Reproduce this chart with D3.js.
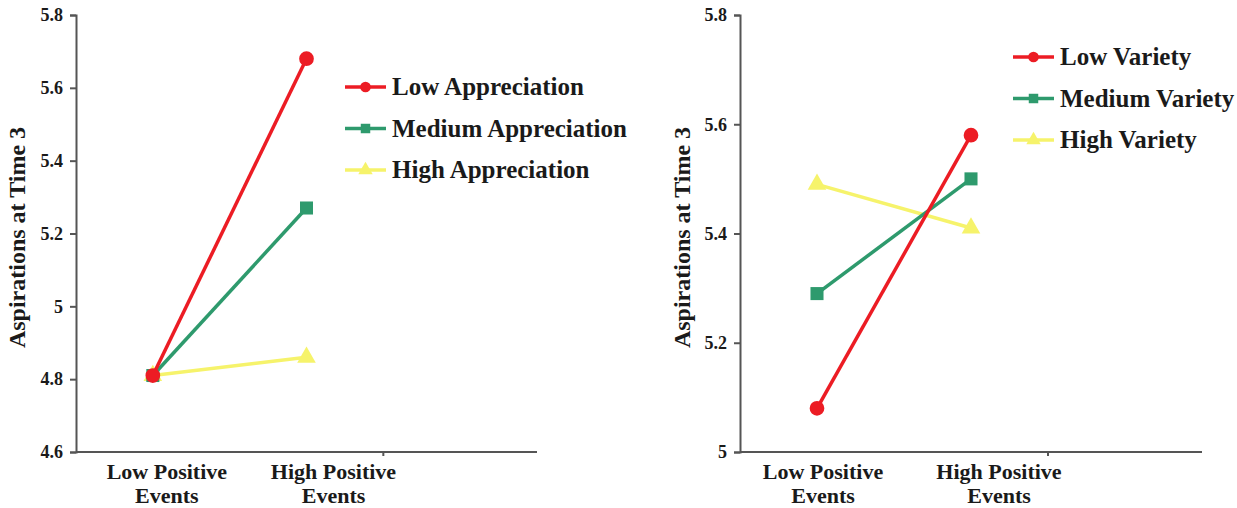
<!DOCTYPE html>
<html lang="en">
<head>
  <meta charset="UTF-8" />
  <title>Aspirations at Time 3</title>
  <script src="https://d3js.org/d3.v7.min.js"></script>
  <style>
    body {
      margin: 0;
      padding: 0;
      background: #fff;
    }
    text {
      font-family: "Liberation Serif", "Times New Roman", serif;
      font-weight: bold;
      fill: #1a1a1a;
    }
    .tick-label { font-size: 18px; }
    .cat-label { font-size: 22px; }
    .axis-title { font-size: 24px; }
    .legend-label { font-size: 25px; }
    .axis-line {
      stroke: #555;
      stroke-width: 2px;
      fill: none;
    }
  </style>
</head>
<body>
  <svg width="1237" height="508"></svg>
  <script>
    // categories on the x axis
    const categories = ["Low Positive Events", "High Positive Events"];
    const categoryLines = [["Low Positive", "Events"], ["High Positive", "Events"]];

    // left panel
    const appreciationSeries = ["Low Appreciation", "Medium Appreciation", "High Appreciation"];
    const lowAppreciation = [4.81, 5.68];
    const mediumAppreciation = [4.81, 5.27];
    const highAppreciation = [4.81, 4.86];
    const leftTicks = [4.6, 4.8, 5, 5.2, 5.4, 5.6, 5.8];

    // right panel
    const varietySeries = ["Low Variety", "Medium Variety", "High Variety"];
    const lowVariety = [5.08, 5.58];
    const mediumVariety = [5.29, 5.50];
    const highVariety = [5.49, 5.41];
    const rightTicks = [5, 5.2, 5.4, 5.6, 5.8];

    const colors = ["#ec1c24", "#2e9a6d", "#f6f36b"];
    const shapes = [d3.symbolCircle, d3.symbolSquare, d3.symbolTriangle];

    const svg = d3.select("svg");

    function drawPanel(opts) {
      const g = svg.append("g");
      const { x0, x1, yTop, yBottom } = opts;

      const y = d3.scaleLinear()
        .domain([opts.ticks[0], opts.ticks[opts.ticks.length - 1]])
        .range([yBottom, yTop]);

      // three equal bands, the last one left empty
      const band = d3.scaleBand()
        .domain([...categories, ""])
        .range([x0, x1])
        .paddingInner(0)
        .paddingOuter(0);
      const xc = c => band(c) + band.bandwidth() / 2;

      // y axis
      const yAxis = d3.axisLeft(y)
        .tickValues(opts.ticks)
        .tickSize(6)
        .tickPadding(7)
        .tickFormat(d => d3.format("")(+d.toFixed(1)));
      const ya = g.append("g")
        .attr("transform", `translate(${x0},0)`)
        .call(yAxis);
      ya.select(".domain").attr("class", "axis-line");
      ya.selectAll(".tick line").attr("stroke", "#555").attr("stroke-width", 2);
      ya.selectAll(".tick text").attr("class", "tick-label").attr("fill", "#1a1a1a");

      // x axis line with a tick every second category boundary
      g.append("line")
        .attr("class", "axis-line")
        .attr("x1", x0).attr("x2", x1)
        .attr("y1", yBottom).attr("y2", yBottom);
      g.append("line")
        .attr("class", "axis-line")
        .attr("x1", band(categories[1]) + band.bandwidth())
        .attr("x2", band(categories[1]) + band.bandwidth())
        .attr("y1", yBottom).attr("y2", yBottom + 4);

      categories.forEach((c, i) => {
        categoryLines[i].forEach((ln, k) => {
          g.append("text")
            .attr("class", "cat-label")
            .attr("text-anchor", "middle")
            .attr("x", xc(c) + opts.labelShift[i])
            .attr("y", yBottom + 27 + k * 24)
            .text(ln);
        });
      });

      g.append("text")
        .attr("class", "axis-title")
        .attr("text-anchor", "middle")
        .attr("transform", `translate(${opts.titleX},${(yTop + yBottom) / 2 + 4}) rotate(-90)`)
        .text("Aspirations at Time 3");

      // lines, drawn yellow first so red sits on top
      const line = d3.line()
        .x((d, i) => xc(categories[i]))
        .y(d => y(d));

      for (let s = opts.values.length - 1; s >= 0; s--) {
        g.append("path")
          .attr("d", line(opts.values[s]))
          .attr("fill", "none")
          .attr("stroke", colors[s])
          .attr("stroke-width", 3.5);
        g.selectAll(null)
          .data(opts.values[s])
          .enter()
          .append("path")
          .attr("d", d3.symbol().type(shapes[s]).size(s === 2 ? 150 : 170))
          .attr("transform", (d, i) => `translate(${xc(categories[i])},${y(d)})`)
          .attr("fill", colors[s]);
      }

      // legend
      opts.series.forEach((name, s) => {
        const ly = opts.legendY + s * 41.5;
        const lg = g.append("g").attr("transform", `translate(${opts.legendX},${ly})`);
        lg.append("line")
          .attr("x1", 0).attr("x2", 41)
          .attr("y1", 0).attr("y2", 0)
          .attr("stroke", colors[s])
          .attr("stroke-width", 3.5);
        lg.append("path")
          .attr("d", d3.symbol().type(shapes[s]).size(90))
          .attr("transform", "translate(20.5,0)")
          .attr("fill", colors[s]);
        lg.append("text")
          .attr("class", "legend-label")
          .attr("x", 47)
          .attr("y", 8)
          .text(name);
      });
    }

    drawPanel({
      x0: 76, x1: 537, yTop: 15, yBottom: 452,
      ticks: leftTicks,
      values: [lowAppreciation, mediumAppreciation, highAppreciation],
      series: appreciationSeries,
      labelShift: [14, 27],
      titleX: 25,
      legendX: 345, legendY: 87
    });

    drawPanel({
      x0: 740, x1: 1202, yTop: 15, yBottom: 452,
      ticks: rightTicks,
      values: [lowVariety, mediumVariety, highVariety],
      series: varietySeries,
      labelShift: [6, 28],
      titleX: 690,
      legendX: 1013, legendY: 57
    });
  </script>
</body>
</html>
